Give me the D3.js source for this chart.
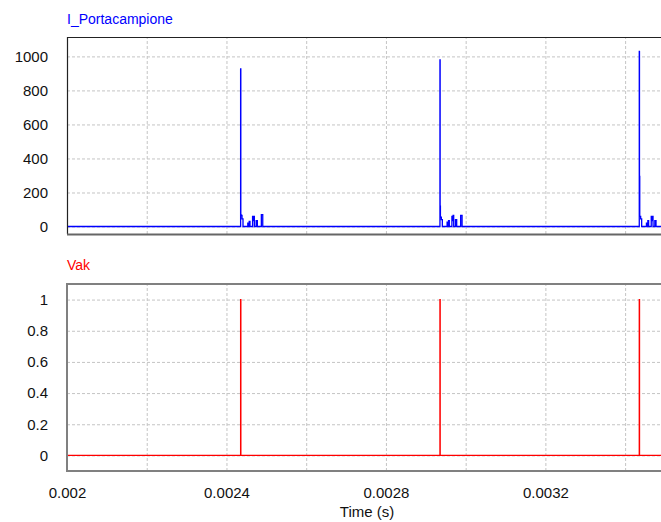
<!DOCTYPE html>
<html>
<head>
<meta charset="utf-8">
<script src="https://cdn.jsdelivr.net/npm/d3@7"></script>
<style>
  body { margin: 0; background: #fff; }
  svg { display: block; font-family: "Liberation Sans", Arial, sans-serif; }
</style>
</head>
<body>
<svg id="chart" width="661" height="522"></svg>
<script>
const WIDTH = 661;
const HEIGHT = 522;

// time axis
const timeDomain = [0.002, 0.00349];
const gridTimes = [0.002, 0.0022, 0.0024, 0.0026, 0.0028, 0.003, 0.0032, 0.0034];
const timeLabels = [0.002, 0.0024, 0.0028, 0.0032];

// I_Portacampione
const currentTicks = [0, 200, 400, 600, 800, 1000];
const pulseTimes = [0.0024355, 0.0029355, 0.0034355];
const peakCurrent = [926, 980, 1030];
const afterPeak = [70, 120, 295];
// ringing after each spike, held as steps: [offset in µs, current]
const tail1 = [[1.2, 65], [3.5, 45], [6, 0], [18, 20], [20, 0], [21.5, 30], [23.5, 0], [30, 60], [32, 35], [33, 60], [34.5, 0], [39, 35], [42, 0], [52, 70], [55.5, 0]];
const tail2 = [[1.2, 55], [3.5, 40], [6, 0], [18, 25], [20, 0], [21.5, 35], [23.5, 0], [30, 60], [32, 35], [33, 65], [34.5, 0], [39, 40], [42, 0], [52, 65], [55.5, 0]];
const tail3 = [[1.2, 60], [3.5, 45], [6, 0], [18, 20], [20, 0], [21.5, 35], [23.5, 0], [30, 60], [32, 35], [33, 60], [34.5, 0], [39, 35], [42, 0]];
const tails = [tail1, tail2, tail3];

// Vak
const vakTicks = [0, 0.2, 0.4, 0.6, 0.8, 1];
const vakLevel = [1, 1, 1];
const vakWidthUs = 0.6;

const svg = d3.select('#chart');

const x = d3.scaleLinear().domain(timeDomain).range([67, WIDTH]);
const yTop = d3.scaleLinear().domain([-44, 1114]).range([234, 37]);
const yBot = d3.scaleLinear().domain([-0.1, 1.1]).range([471, 284]);

// build the series (step-after points)
const currentPoints = [[timeDomain[0], 0]];
pulseTimes.forEach((t0, i) => {
  currentPoints.push([t0, peakCurrent[i]]);
  currentPoints.push([t0 + 0.5e-6, afterPeak[i]]);
  tails[i].forEach(([dt, v]) => currentPoints.push([t0 + dt * 1e-6, v]));
});
currentPoints.push([timeDomain[1], 0]);

const vakPoints = [[timeDomain[0], 0]];
pulseTimes.forEach((t0, i) => {
  vakPoints.push([t0, vakLevel[i]], [t0 + vakWidthUs * 1e-6, 0]);
});
vakPoints.push([timeDomain[1], 0]);

function styleGrid(g) {
  g.select('.domain').remove();
  g.selectAll('.tick line')
    .attr('stroke', '#c4c4c4')
    .attr('stroke-width', 1)
    .attr('stroke-dasharray', '3,2');
  g.selectAll('.tick text')
    .attr('fill', '#111')
    .style('font-size', '15px')
    .style('font-family', '"Liberation Sans", Arial, sans-serif');
}

function panel(y, ticks, top, bottom, fmt) {
  svg.append('g')
    .attr('transform', `translate(0,${bottom})`)
    .call(d3.axisBottom(x).tickValues(gridTimes).tickSize(-(bottom - top)).tickFormat(''))
    .call(styleGrid);
  svg.append('g')
    .attr('transform', 'translate(67,0)')
    .call(d3.axisLeft(y).tickValues(ticks).tickSize(-(WIDTH - 67)).tickPadding(19).tickFormat(fmt))
    .call(styleGrid);
}

panel(yTop, currentTicks, 37, 234, d3.format('d'));
panel(yBot, vakTicks, 284, 471, (d) => (d === 0 || d === 1 ? String(d) : d3.format('.1f')(d)));

// x labels under the lower panel
svg.append('g')
  .attr('transform', 'translate(0,471)')
  .call(d3.axisBottom(x).tickValues(timeLabels).tickSize(0).tickPadding(16).tickFormat((d) => String(+d.toFixed(4))))
  .call((g) => {
    g.select('.domain').remove();
    g.selectAll('text').attr('fill', '#111').style('font-size', '15px')
      .style('font-family', '"Liberation Sans", Arial, sans-serif');
  });

// clip
svg.append('defs').append('clipPath').attr('id', 'clip')
  .append('rect').attr('x', 67).attr('y', 0).attr('width', WIDTH - 67).attr('height', HEIGHT);

const stepLine = (y) => d3.line().curve(d3.curveStepAfter).x((d) => x(d[0])).y((d) => y(d[1]));

svg.append('path')
  .datum(currentPoints)
  .attr('clip-path', 'url(#clip)')
  .attr('fill', 'none')
  .attr('stroke', '#0000ff')
  .attr('stroke-width', 1.3)
  .attr('d', stepLine(yTop));

svg.append('path')
  .datum(vakPoints)
  .attr('clip-path', 'url(#clip)')
  .attr('fill', 'none')
  .attr('stroke', '#ff0000')
  .attr('stroke-width', 1.3)
  .attr('d', stepLine(yBot));

// frames
svg.append('path').attr('fill', 'none').attr('stroke', '#222').attr('stroke-width', 1.2)
  .attr('d', `M${WIDTH},37.5H67.5V234`);
svg.append('line').attr('x1', 67).attr('x2', WIDTH).attr('y1', 234.5).attr('y2', 234.5)
  .attr('stroke', '#666').attr('stroke-width', 2);
svg.append('path').attr('fill', 'none').attr('stroke', '#808080').attr('stroke-width', 2)
  .attr('d', `M${WIDTH},284H67V471H${WIDTH}`);

// titles
svg.append('text').attr('x', 67).attr('y', 24).attr('fill', '#0000ff')
  .style('font-size', '14px').text('I_Portacampione');
svg.append('text').attr('x', 67).attr('y', 270).attr('fill', '#ff0000')
  .style('font-size', '14px').text('Vak');
svg.append('text').attr('x', 367).attr('y', 517).attr('text-anchor', 'middle').attr('fill', '#111')
  .style('font-size', '15px').text('Time (s)');
</script>
</body>
</html>
